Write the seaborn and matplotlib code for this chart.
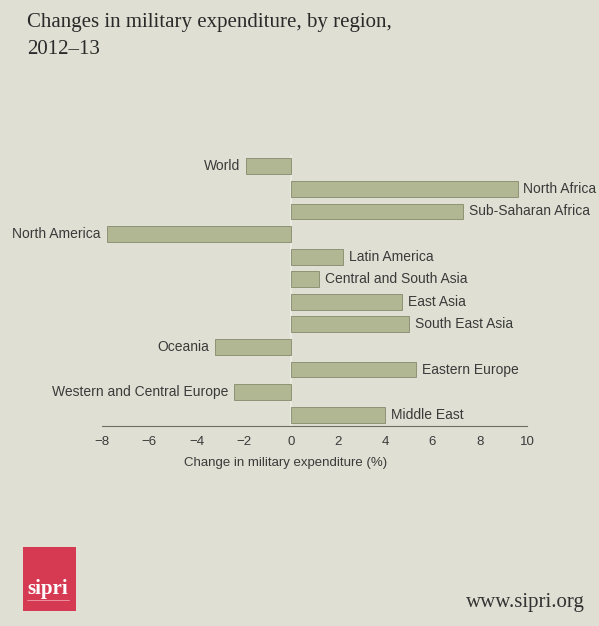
import matplotlib
matplotlib.use("Agg")
import matplotlib.pyplot as plt
import seaborn as sns
import pandas as pd
from matplotlib.patches import Rectangle
from matplotlib.lines import Line2D

regions = ["World", "North Africa", "Sub-Saharan Africa", "North America",
           "Latin America", "Central and South Asia", "East Asia",
           "South East Asia", "Oceania", "Eastern Europe",
           "Western and Central Europe", "Middle East"]
changes = [-1.9, 9.6, 7.3, -7.8, 2.2, 1.2, 4.7, 5.0, -3.2, 5.3, -2.4, 4.0]
xticks = [-8, -6, -4, -2, 0, 2, 4, 6, 8, 10]

BG = "#dfe0d3"
BAR = "#b0b792"
EDGE = "#858a6c"
TXT = "#3a3a3a"

sns.set_style("white")
df = pd.DataFrame({"region": regions, "change": changes})

fig = plt.figure(figsize=(5.99, 6.26), dpi=100, facecolor=BG)
ax = fig.add_axes([102/599, 200/626, 425/599, 271/626])
ax.set_facecolor(BG)

sns.barplot(data=df, x="change", y="region", orient="h", color=BAR,
            width=0.7, edgecolor=EDGE, linewidth=0.6, saturation=1, ax=ax)

ax.set_xlim(-8, 10)
ax.set_ylim(11.5, -0.5)
for s in ["top", "right", "left"]:
    ax.spines[s].set_visible(False)
ax.spines["bottom"].set_color("#6d6d66")
ax.spines["bottom"].set_linewidth(0.8)
ax.axvline(0, color="#eceee4", lw=1.2, zorder=0)

ax.set_yticks([])
ax.set_ylabel("")
ax.set_xticks(xticks)
ax.set_xticklabels([str(t).replace("-", "\u2212") for t in xticks],
                   fontsize=9.5, color=TXT, family="Liberation Sans")
ax.tick_params(axis="x", length=4, width=0.8, color="#6d6d66", pad=3)
ax.set_xlabel("Change in military expenditure (%)", fontsize=9.5,
              color=TXT, family="Liberation Sans")
ax.xaxis.set_label_coords(0.432, -0.115)

for i, (r, v) in enumerate(zip(regions, changes)):
    if v >= 0:
        ax.text(v + 0.25, i, r, ha="left", va="center", fontsize=10,
                color=TXT, family="Liberation Sans", clip_on=False)
    else:
        ax.text(v - 0.25, i, r, ha="right", va="center", fontsize=10,
                color=TXT, family="Liberation Sans", clip_on=False)

fig.text(27/599, 1 - 23/626, "Changes in military expenditure, by region,",
         fontsize=15, family="Liberation Serif", color="#2a2a2a",
         ha="left", va="center")
fig.text(27/599, 1 - 49/626, "2012\u201313",
         fontsize=15, family="Liberation Serif", color="#2a2a2a",
         ha="left", va="center")

logo = Rectangle((23/599, 1 - 611/626), 53/599, 64/626,
                 transform=fig.transFigure, facecolor="#d63a52",
                 edgecolor="none")
fig.patches.append(logo)
fig.text(47.5/599, 1 - 589/626, "sipri", fontsize=15, family="Liberation Serif",
         color="white", ha="center", va="center", fontweight="bold")
fig.lines.append(Line2D([27/599, 69/599], [1 - 600/626, 1 - 600/626],
                        transform=fig.transFigure, color="#f0a0ae", lw=0.6))
fig.text(585/599, 1 - 602/626, "www.sipri.org", fontsize=15,
         family="Liberation Serif", color="#333333", ha="right", va="center")

fig.savefig("out.png", dpi=100, facecolor=BG)
